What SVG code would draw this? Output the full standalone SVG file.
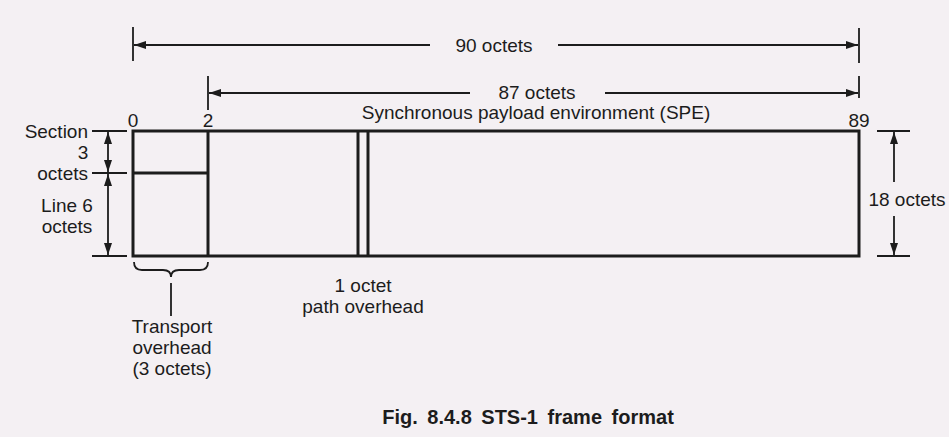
<svg xmlns="http://www.w3.org/2000/svg" width="949" height="437" viewBox="0 0 949 437">
<style>
text{font-family:"Liberation Sans",Arial,sans-serif;fill:#1c1c1c;font-size:19px}
.dim{stroke:#1c1c1c;stroke-width:1.8;fill:none}
.frm{stroke:#1c1c1c;stroke-width:3;fill:none}
.cap{font-weight:bold;font-size:20px;word-spacing:4px}
</style>
<defs>
<marker id="ah" viewBox="0 0 12 8" refX="12" refY="4" markerWidth="12" markerHeight="8" markerUnits="userSpaceOnUse" orient="auto-start-reverse">
<path d="M0,0 L12,4 L0,8 Z" fill="#1c1c1c"/>
</marker>
</defs>
<rect width="949" height="437" fill="#f4f0f3"/>
<g id="connectors">
<line class="dim" x1="133" y1="27" x2="133" y2="61"/>
<line class="dim" x1="859" y1="28" x2="859" y2="63"/>
<line class="dim" x1="134" y1="45" x2="430" y2="45" marker-start="url(#ah)"/>
<line class="dim" x1="558" y1="45" x2="858" y2="45" marker-end="url(#ah)"/>
<line class="dim" x1="208" y1="76" x2="208" y2="110"/>
<line class="dim" x1="859" y1="76" x2="859" y2="98"/>
<line class="dim" x1="209" y1="93" x2="470" y2="93" marker-start="url(#ah)"/>
<line class="dim" x1="605" y1="93" x2="858" y2="93" marker-end="url(#ah)"/>
<line class="dim" x1="92" y1="131" x2="127" y2="131"/>
<line class="dim" x1="92" y1="173" x2="127" y2="173"/>
<line class="dim" x1="92" y1="256" x2="127" y2="256"/>
<line class="dim" x1="108" y1="132" x2="108" y2="172" marker-start="url(#ah)" marker-end="url(#ah)"/>
<line class="dim" x1="108" y1="174" x2="108" y2="255" marker-start="url(#ah)" marker-end="url(#ah)"/>
<line class="dim" x1="877" y1="131" x2="910" y2="131"/>
<line class="dim" x1="877" y1="256" x2="910" y2="256"/>
<line class="dim" x1="894" y1="132" x2="894" y2="182" marker-start="url(#ah)"/>
<line class="dim" x1="894" y1="216" x2="894" y2="255" marker-end="url(#ah)"/>
<path class="dim" d="M134,262 Q134,270 142,270 L163,270 Q171,270 171,277 Q171,270 179,270 L200,270 Q208,270 208,262"/>
<line class="dim" x1="171" y1="283" x2="171" y2="316"/>
</g>
<g id="frame">
<rect class="frm" x="133" y="131" width="726" height="125"/>
<line class="frm" x1="208" y1="131" x2="208" y2="256"/>
<line class="frm" x1="133" y1="173" x2="208" y2="173"/>
<line class="frm" x1="358" y1="131" x2="358" y2="256"/>
<line class="frm" x1="368" y1="131" x2="368" y2="256"/>
</g>
<g id="labels">
<text x="494" y="52" text-anchor="middle">90 octets</text>
<text x="537" y="99" text-anchor="middle">87 octets</text>
<text x="536" y="119" text-anchor="middle">Synchronous payload environment (SPE)</text>
<text x="133" y="127" text-anchor="middle">0</text>
<text x="208" y="127" text-anchor="middle">2</text>
<text x="859" y="127" text-anchor="middle">89</text>
<text x="88" y="138" text-anchor="end">Section</text>
<text x="83" y="159" text-anchor="middle">3</text>
<text x="88" y="180" text-anchor="end">octets</text>
<text x="67" y="212" text-anchor="middle">Line 6</text>
<text x="67" y="233" text-anchor="middle">octets</text>
<text x="907" y="206" text-anchor="middle">18 octets</text>
<text x="172" y="333" text-anchor="middle">Transport</text>
<text x="172" y="354" text-anchor="middle">overhead</text>
<text x="172" y="375" text-anchor="middle">(3 octets)</text>
<text x="363" y="292" text-anchor="middle">1 octet</text>
<text x="363" y="313" text-anchor="middle">path overhead</text>
<text class="cap" x="528" y="424" text-anchor="middle">Fig. 8.4.8 STS-1 frame format</text>
</g>
</svg>
